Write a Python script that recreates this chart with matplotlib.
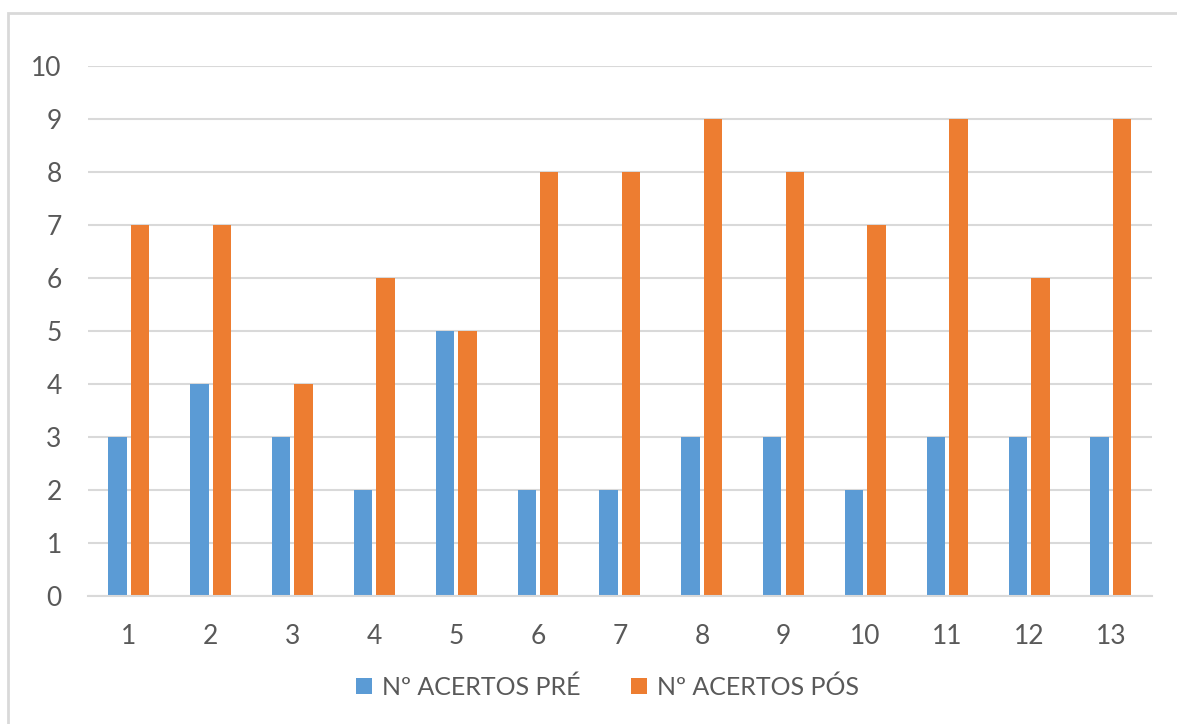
import numpy as np
import matplotlib.pyplot as plt
from matplotlib.patches import Rectangle

# dados
categorias = [str(i) for i in range(1, 14)]
acertos_pre = [3, 4, 3, 2, 5, 2, 2, 3, 3, 2, 3, 3, 3]
acertos_pos = [7, 7, 4, 6, 5, 8, 8, 9, 8, 7, 9, 6, 9]
rotulos = ["Nº ACERTOS PRÉ", "Nº ACERTOS PÓS"]

AZUL = "#5B9BD5"
LARANJA = "#ED7D31"
CINZA = "#D9D9D9"
TEXTO = "#595959"

plt.rcParams["font.family"] = ["Lato", "DejaVu Sans"]

fig = plt.figure(figsize=(11.77, 7.24), dpi=100)
ax = fig.add_axes([0.0748, 0.1768, 0.904, 0.732])

x = np.arange(len(categorias))
largura = 0.225
ax.bar(x - 0.14, acertos_pre, largura, color=AZUL, label=rotulos[0], zorder=3)
ax.bar(x + 0.135, acertos_pos, largura, color=LARANJA, label=rotulos[1], zorder=3)

ax.set_xlim(-0.5, len(categorias) - 0.5)
ax.set_ylim(0, 10)
ax.set_yticks(range(0, 11))
ax.set_xticks(x)
ax.set_xticklabels(categorias)

ax.grid(axis="y", color=CINZA, linewidth=1.5, zorder=0)
for lado in ["top", "right", "left"]:
    ax.spines[lado].set_visible(False)
ax.spines["bottom"].set_color(CINZA)
ax.spines["bottom"].set_linewidth(1.5)
ax.spines["bottom"].set_zorder(4)

ax.tick_params(axis="both", length=0, labelsize=19, labelcolor=TEXTO)
ax.tick_params(axis="y", pad=19)
ax.tick_params(axis="x", pad=20)

ax.legend(
    loc="center",
    bbox_to_anchor=(0.516, 0.051),
    bbox_transform=fig.transFigure,
    ncol=2,
    frameon=False,
    fontsize=18,
    labelcolor=TEXTO,
    handlelength=0.65,
    handleheight=0.65,
    handletextpad=0.4,
    columnspacing=2.0,
)

# moldura do gráfico
fig.patches.append(Rectangle(
    (8 / 1177, -0.05), 1.2, 1 - 13 / 724 + 0.05,
    transform=fig.transFigure, fill=False,
    edgecolor=CINZA, linewidth=2
))

fig.savefig("out.png", dpi=100)
